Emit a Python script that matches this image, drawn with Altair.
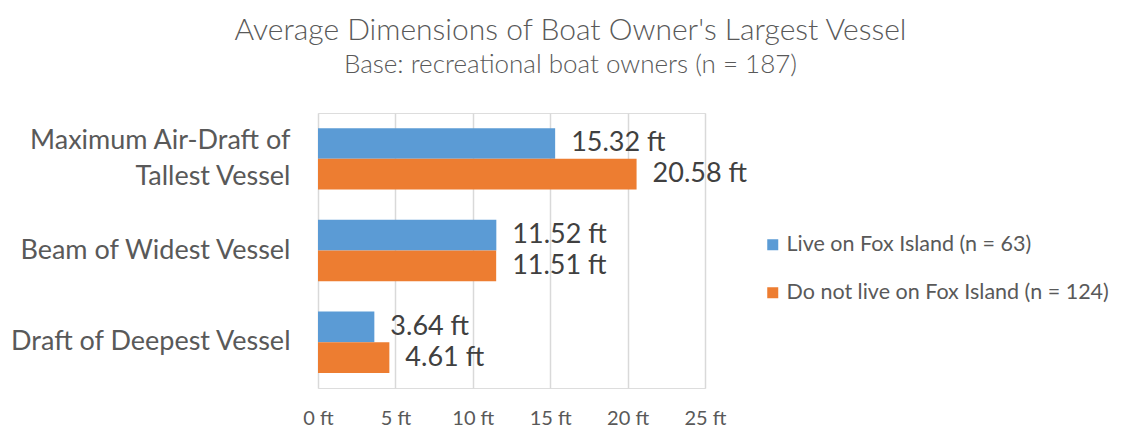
import altair as alt
import pandas as pd

categories = ["Maximum Air-Draft of Tallest Vessel", "Beam of Widest Vessel", "Draft of Deepest Vessel"]
series = ["Live on Fox Island (n = 63)", "Do not live on Fox Island (n = 124)"]
live_values = [15.32, 11.52, 3.64]
notlive_values = [20.58, 11.51, 4.61]
x_ticks = [0, 5, 10, 15, 20, 25]

rows = []
for c, a, b in zip(categories, live_values, notlive_values):
    rows.append({"category": c, "series": series[0], "value": a, "order": 0})
    rows.append({"category": c, "series": series[1], "value": b, "order": 1})
df = pd.DataFrame(rows)
df["label"] = df["value"].map(lambda v: f"{v:.2f} ft")

FONT = "Lato"

y = alt.Y("category:N", sort=categories, title=None,
          scale=alt.Scale(paddingInner=0.33, paddingOuter=0.165),
          axis=alt.Axis(labelFontSize=27, labelColor="#595959", labelFont=FONT,
                        labelPadding=28, ticks=False, domain=False, labelLimit=400,
                        labelLineHeight=36,
                        labelOffset={"condition": {"test": "datum.value == 'Maximum Air-Draft of Tallest Vessel'", "value": -18}, "value": 0},
                        labelExpr="datum.label == 'Maximum Air-Draft of Tallest Vessel' ? ['Maximum Air-Draft of', 'Tallest Vessel'] : datum.label"))
yoff = alt.YOffset("series:N", sort=series, scale=alt.Scale(paddingInner=0, paddingOuter=0))

bars = alt.Chart(df).mark_bar().encode(
    x=alt.X("value:Q", title=None,
            scale=alt.Scale(domain=[0, 25], nice=False),
            axis=alt.Axis(values=x_ticks, labelExpr="datum.value + ' ft'",
                          labelFontSize=20, labelColor="#595959", labelFont=FONT,
                          labelPadding=20, labelFlush=False, ticks=False, domain=False,
                          grid=True, gridColor="#d9d9d9", gridWidth=1.5)),
    y=y,
    yOffset=yoff,
    color=alt.Color("series:N", sort=series, title=None,
                    scale=alt.Scale(domain=series, range=["#5B9BD5", "#ED7D31"]),
                    legend=alt.Legend(orient="none", legendX=444, legendY=121,
                                      symbolType="square", symbolSize=121,
                                      symbolStrokeWidth=0, labelOffset=3,
                                      labelFontSize=21.5, labelColor="#595959",
                                      labelFont=FONT, rowPadding=25,
                                      labelLimit=500)),
)

labels = alt.Chart(df).mark_text(align="left", baseline="middle", dx=16,
                                 fontSize=27, color="#404040", font=FONT).encode(
    x="value:Q",
    y=alt.Y("category:N", sort=categories),
    yOffset=yoff,
    text="label:N",
)

chart = alt.layer(bars, labels).properties(
    width=387, height=275,
    autosize=alt.AutoSizeParams(type="none"),
    padding={"left": 310, "top": 105, "right": 411, "bottom": 42},
    title=alt.TitleParams(
        text="Average Dimensions of Boat Owner's Largest Vessel",
        subtitle="Base: recreational boat owners (n = 187)",
        anchor="middle", dx=59, offset=35,
        fontSize=30, font=FONT, fontWeight=300, color="#595959",
        subtitleFontSize=26, subtitleFont=FONT, subtitleColor="#595959",
        subtitleFontWeight=300, subtitlePadding=6,
    ),
).configure_view(stroke=None).configure(background="white")

chart.save("out.html", embed_options={"renderer": "svg", "actions": False})
